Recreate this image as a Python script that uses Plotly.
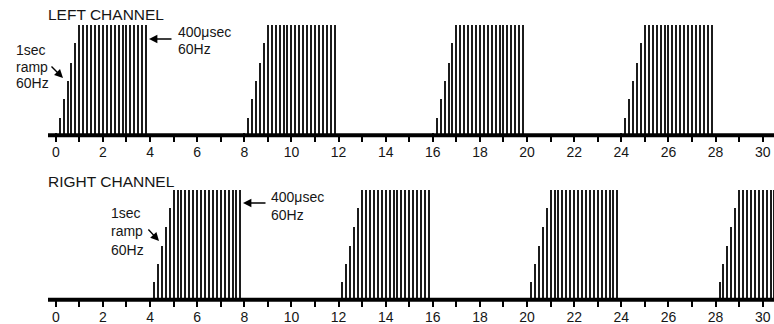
import plotly.graph_objects as go

# ---- data ----
pulse_offsets = [0.0, 0.167, 0.333, 0.5, 0.667, 0.833,
                 1.0, 1.167, 1.333, 1.5, 1.667, 1.833,
                 2.0, 2.167, 2.333, 2.5, 2.667, 2.833,
                 3.0, 3.167, 3.333, 3.5, 3.667, 3.833]
pulse_heights = [0.02, 0.16, 0.33, 0.49, 0.66, 0.84,
                 1, 1, 1, 1, 1, 1,
                 1, 1, 1, 1, 1, 1,
                 1, 1, 1, 1, 1, 1]
left_burst_starts = [0, 8, 16, 24]
right_burst_starts = [4, 12, 20, 28]
tick_values = list(range(0, 31))
tick_labels = [str(v) if v % 2 == 0 else "" for v in tick_values]

W, H = 774, 324
FONT = "Liberation Sans, Arial, sans-serif"
TXT = "#161616"
PULSE = "#1c1c1c"


def px(x):
    return x / W


def py(y):
    return 1 - y / H


def burst_series(starts):
    xs, ys = [], []
    for s in starts:
        for o, h in zip(pulse_offsets, pulse_heights):
            xs.append(s + o)
            ys.append(h)
    return xs, ys


fig = go.Figure()
lx, ly = burst_series(left_burst_starts)
rx, ry = burst_series(right_burst_starts)
fig.add_trace(go.Bar(x=lx, y=ly, width=0.085, marker=dict(color=PULSE, line=dict(width=0)),
                     xaxis="x", yaxis="y", showlegend=False, hoverinfo="skip"))
fig.add_trace(go.Bar(x=rx, y=ry, width=0.085, marker=dict(color=PULSE, line=dict(width=0)),
                     xaxis="x2", yaxis="y2", showlegend=False, hoverinfo="skip"))

top_base, top_peak = 135.3, 25
bot_base, bot_peak = 299.7, 190
x_dom = [48 / W, 1]
x_rng = [-0.33, 30.48]

xcommon = dict(domain=x_dom, range=x_rng, showgrid=False, zeroline=False, showline=False,
               ticks="outside", ticklen=6, tickwidth=2, tickcolor="black",
               tickmode="array", tickvals=tick_values, ticktext=tick_labels,
               ticklabelstandoff=-2,
               tickfont=dict(family=FONT, size=14, color=TXT), fixedrange=True)
fig.update_layout(
    width=W, height=H, margin=dict(l=0, r=0, t=0, b=0),
    paper_bgcolor="white", plot_bgcolor="white", bargap=0,
    xaxis=dict(anchor="y", **xcommon),
    xaxis2=dict(anchor="y2", **xcommon),
    yaxis=dict(domain=[py(top_base), py(top_peak)], range=[0, 1], visible=False),
    yaxis2=dict(domain=[py(bot_base), py(bot_peak)], range=[0, 1], visible=False),
)

# thick baseline for each channel
for base in (top_base, bot_base):
    fig.add_shape(type="line", xref="paper", yref="paper", x0=px(48), x1=1,
                  y0=py(base), y1=py(base), line=dict(color="black", width=4))

def text(t, x, y, size=14):
    fig.add_annotation(text=t, xref="paper", yref="paper", x=px(x), y=py(y),
                       xanchor="left", yanchor="middle", showarrow=False,
                       font=dict(family=FONT, size=size, color=TXT))

def arrow(hx, hy, tx, ty):
    fig.add_annotation(text="", xref="paper", yref="paper", x=px(hx), y=py(hy),
                       ax=tx - hx, ay=ty - hy, showarrow=True, arrowhead=2,
                       arrowsize=1.2, arrowwidth=1.4, arrowcolor="black", standoff=0)

# titles
text("LEFT CHANNEL", 46, 15, 15.5)
text("RIGHT CHANNEL", 46, 181, 15.5)

# left annotations
text("1sec", 14, 50)
text("ramp", 14, 67)
text("60Hz", 14, 83)
arrow(63, 78, 50, 65)
text("400μsec", 176, 32)
text("60Hz", 176, 49)
arrow(149, 39, 173, 39)

# right annotations
text("1sec", 109, 213)
text("ramp", 109, 231)
text("60Hz", 109, 250)
arrow(159, 241, 147, 228)
text("400μsec", 269, 197)
text("60Hz", 269, 215)
arrow(243, 203, 267, 203)

fig.write_html("out.html")
